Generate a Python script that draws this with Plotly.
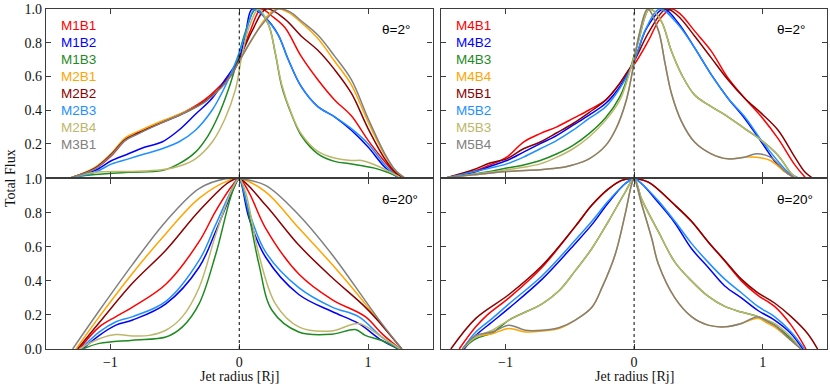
import plotly.graph_objects as go

# ---------------- colours / labels ----------------
COLORS = ["#ff0000", "#0000ff", "#1f8a1f", "#ffa500", "#8b0000", "#1e90ff", "#bdb76b", "#808080"]
LEFT_LABELS = ["M1B1", "M1B2", "M1B3", "M2B1", "M2B2", "M2B3", "M2B4", "M3B1"]
RIGHT_LABELS = ["M4B1", "M4B2", "M4B3", "M4B4", "M5B1", "M5B2", "M5B3", "M5B4"]
X_TICKS = [-1, 0, 1]
X_TICKTEXT = ["\u22121", "0", "1"]
Y_TICKS = [0.0, 0.2, 0.4, 0.6, 0.8, 1.0]
Y_TICKTEXT = ["0.0", "0.2", "0.4", "0.6", "0.8", "1.0"]
PANEL_TOP_LABEL = "\u03b8=2\u00b0"
PANEL_BOT_LABEL = "\u03b8=20\u00b0"

# ---------------- top-left (theta = 2 deg) ----------------
tl_M1B1_x = [-1.30, -1.12, -0.99, -0.885, -0.78, -0.60, -0.42, -0.27, -0.14, -0.06, 0.0, 0.08, 0.17, 0.25, 0.354, 0.48, 0.61, 0.74, 0.87, 1.0, 1.13, 1.20, 1.25]
tl_M1B1_y = [0.0, 0.05, 0.13, 0.22, 0.265, 0.33, 0.39, 0.46, 0.55, 0.62, 0.70, 0.86, 1.0, 0.96, 0.89, 0.72, 0.58, 0.46, 0.366, 0.22, 0.093, 0.03, 0.0]
tl_M1B2_x = [-1.30, -1.12, -0.99, -0.86, -0.73, -0.60, -0.47, -0.34, -0.21, -0.11, 0.0, 0.05, 0.10, 0.20, 0.30, 0.38, 0.48, 0.61, 0.74, 0.87, 1.0, 1.13, 1.23]
tl_M1B2_y = [0.0, 0.04, 0.10, 0.14, 0.18, 0.21, 0.28, 0.375, 0.47, 0.58, 0.71, 0.86, 1.0, 0.95, 0.85, 0.70, 0.54, 0.42, 0.36, 0.28, 0.18, 0.06, 0.0]
tl_M1B3_x = [-1.30, -1.12, -0.86, -0.60, -0.47, -0.34, -0.24, -0.16, -0.085, -0.02, 0.05, 0.13, 0.225, 0.28, 0.33, 0.41, 0.48, 0.61, 0.74, 0.87, 1.05, 1.15, 1.24]
tl_M1B3_y = [0.0, 0.017, 0.03, 0.04, 0.08, 0.15, 0.25, 0.37, 0.52, 0.68, 0.87, 1.0, 0.91, 0.735, 0.54, 0.366, 0.25, 0.14, 0.095, 0.08, 0.055, 0.03, 0.0]
tl_M2B1_x = [-1.30, -1.12, -0.99, -0.885, -0.78, -0.60, -0.42, -0.27, -0.136, -0.06, 0.0, 0.10, 0.20, 0.285, 0.38, 0.48, 0.61, 0.74, 0.87, 1.0, 1.13, 1.21, 1.27]
tl_M2B1_y = [0.0, 0.06, 0.145, 0.235, 0.275, 0.335, 0.39, 0.45, 0.54, 0.61, 0.69, 0.82, 0.94, 1.0, 0.98, 0.92, 0.825, 0.69, 0.55, 0.33, 0.13, 0.04, 0.0]
tl_M2B2_x = [-1.30, -1.12, -0.99, -0.885, -0.78, -0.60, -0.42, -0.27, -0.136, -0.06, 0.0, 0.10, 0.21, 0.354, 0.48, 0.61, 0.74, 0.87, 1.0, 1.13, 1.21, 1.26]
tl_M2B2_y = [0.0, 0.055, 0.14, 0.225, 0.265, 0.325, 0.385, 0.45, 0.54, 0.61, 0.70, 0.87, 1.0, 0.94, 0.84, 0.755, 0.64, 0.50, 0.29, 0.11, 0.03, 0.0]
tl_M2B3_x = [-1.30, -1.12, -0.99, -0.86, -0.73, -0.60, -0.47, -0.34, -0.21, -0.11, -0.03, 0.04, 0.12, 0.20, 0.30, 0.38, 0.48, 0.61, 0.74, 0.87, 1.0, 1.13, 1.23]
tl_M2B3_y = [0.0, 0.03, 0.08, 0.11, 0.14, 0.17, 0.21, 0.28, 0.40, 0.54, 0.68, 0.83, 1.0, 0.95, 0.85, 0.70, 0.54, 0.42, 0.36, 0.29, 0.20, 0.075, 0.0]
tl_M2B4_x = [-1.30, -1.12, -0.86, -0.60, -0.45, -0.34, -0.21, -0.11, -0.03, 0.02, 0.08, 0.15, 0.225, 0.28, 0.33, 0.41, 0.48, 0.61, 0.74, 0.87, 0.95, 1.05, 1.15, 1.25]
tl_M2B4_y = [0.0, 0.03, 0.035, 0.045, 0.07, 0.11, 0.21, 0.35, 0.52, 0.72, 0.90, 1.0, 0.91, 0.74, 0.55, 0.37, 0.26, 0.155, 0.115, 0.10, 0.10, 0.075, 0.04, 0.0]
tl_M3B1_x = [-1.30, -1.12, -0.99, -0.885, -0.78, -0.60, -0.42, -0.27, -0.136, -0.06, 0.0, 0.09, 0.17, 0.30, 0.40, 0.48, 0.61, 0.74, 0.87, 1.0, 1.13, 1.21, 1.28]
tl_M3B1_y = [0.0, 0.05, 0.135, 0.22, 0.26, 0.325, 0.385, 0.445, 0.535, 0.61, 0.69, 0.81, 0.90, 1.0, 0.98, 0.93, 0.845, 0.72, 0.58, 0.35, 0.14, 0.045, 0.0]

# ---------------- top-right (theta = 2 deg) ----------------
tr_M4B1_x = [-1.45, -1.25, -1.12, -0.99, -0.86, -0.73, -0.60, -0.475, -0.35, -0.22, -0.11, -0.04, 0.0, 0.11, 0.20, 0.29, 0.36, 0.47, 0.60, 0.73, 0.86, 0.99, 1.12, 1.25, 1.33]
tr_M4B1_y = [0.0, 0.035, 0.074, 0.12, 0.21, 0.26, 0.30, 0.35, 0.40, 0.46, 0.56, 0.64, 0.67, 0.81, 0.94, 1.0, 0.97, 0.87, 0.75, 0.59, 0.47, 0.36, 0.23, 0.074, 0.0]
tr_M4B2_x = [-1.45, -1.25, -1.12, -0.99, -0.86, -0.73, -0.60, -0.475, -0.35, -0.22, -0.11, 0.0, 0.10, 0.23, 0.34, 0.47, 0.60, 0.73, 0.86, 0.99, 1.12, 1.20, 1.26]
tr_M4B2_y = [0.0, 0.03, 0.065, 0.10, 0.15, 0.20, 0.25, 0.31, 0.37, 0.44, 0.54, 0.69, 0.89, 1.0, 0.92, 0.77, 0.61, 0.47, 0.35, 0.21, 0.07, 0.02, 0.0]
tr_M4B3_x = [-1.45, -1.12, -0.99, -0.86, -0.73, -0.60, -0.475, -0.35, -0.22, -0.11, -0.04, 0.03, 0.12, 0.21, 0.29, 0.37, 0.47, 0.60, 0.73, 0.86, 0.99, 1.12, 1.22, 1.26]
tr_M4B3_y = [0.0, 0.035, 0.055, 0.074, 0.10, 0.14, 0.19, 0.26, 0.356, 0.48, 0.62, 0.80, 1.0, 0.93, 0.75, 0.61, 0.49, 0.42, 0.36, 0.29, 0.22, 0.13, 0.025, 0.0]
tr_M4B4_x = [-1.45, -1.25, -0.99, -0.73, -0.60, -0.475, -0.35, -0.22, -0.14, -0.06, -0.01, 0.04, 0.105, 0.19, 0.24, 0.29, 0.37, 0.47, 0.60, 0.73, 0.86, 0.95, 1.06, 1.17, 1.24]
tr_M4B4_y = [0.0, 0.015, 0.035, 0.045, 0.055, 0.074, 0.11, 0.19, 0.29, 0.46, 0.64, 0.85, 1.0, 0.87, 0.68, 0.50, 0.33, 0.21, 0.14, 0.11, 0.12, 0.12, 0.10, 0.035, 0.0]
tr_M5B1_x = [-1.45, -1.25, -1.12, -0.99, -0.86, -0.73, -0.60, -0.475, -0.35, -0.22, -0.11, 0.0, 0.12, 0.25, 0.34, 0.47, 0.60, 0.73, 0.86, 0.99, 1.12, 1.25, 1.33, 1.38]
tr_M5B1_y = [0.0, 0.045, 0.085, 0.11, 0.17, 0.21, 0.265, 0.32, 0.385, 0.46, 0.56, 0.69, 0.87, 1.0, 0.96, 0.84, 0.71, 0.58, 0.47, 0.38, 0.28, 0.12, 0.03, 0.0]
tr_M5B2_x = [-1.45, -1.12, -0.99, -0.86, -0.73, -0.60, -0.475, -0.35, -0.22, -0.11, 0.0, 0.09, 0.20, 0.34, 0.47, 0.60, 0.73, 0.86, 0.99, 1.12, 1.20, 1.27]
tr_M5B2_y = [0.0, 0.055, 0.08, 0.12, 0.17, 0.22, 0.28, 0.35, 0.42, 0.53, 0.69, 0.88, 1.0, 0.91, 0.77, 0.61, 0.47, 0.36, 0.22, 0.095, 0.03, 0.0]
tr_M5B3_x = [-1.45, -1.12, -0.99, -0.86, -0.73, -0.60, -0.475, -0.35, -0.22, -0.11, -0.04, 0.03, 0.12, 0.21, 0.29, 0.37, 0.47, 0.60, 0.73, 0.86, 0.99, 1.12, 1.22, 1.26]
tr_M5B3_y = [0.0, 0.03, 0.045, 0.06, 0.08, 0.12, 0.17, 0.24, 0.34, 0.46, 0.61, 0.80, 1.0, 0.93, 0.75, 0.61, 0.49, 0.42, 0.36, 0.29, 0.22, 0.13, 0.025, 0.0]
tr_M5B4_x = [-1.45, -1.25, -0.99, -0.73, -0.60, -0.475, -0.35, -0.22, -0.14, -0.06, -0.01, 0.04, 0.105, 0.19, 0.24, 0.29, 0.37, 0.47, 0.60, 0.73, 0.86, 0.95, 1.06, 1.17, 1.24]
tr_M5B4_y = [0.0, 0.015, 0.035, 0.045, 0.055, 0.074, 0.11, 0.19, 0.29, 0.46, 0.64, 0.85, 1.0, 0.87, 0.68, 0.50, 0.33, 0.21, 0.14, 0.11, 0.12, 0.14, 0.12, 0.04, 0.0]

# ---------------- bottom-left (theta = 20 deg) ----------------
bl_M1B1_x = [-1.241, -1.086, -0.957, -0.828, -0.570, -0.312, -0.183, -0.054, 0.0, 0.075, 0.204, 0.462, 0.720, 0.978, 1.107, 1.249]
bl_M1B1_y = [0.0, 0.13, 0.19, 0.246, 0.38, 0.63, 0.81, 0.96, 1.0, 0.92, 0.71, 0.44, 0.29, 0.19, 0.09, 0.0]
bl_M1B2_x = [-1.215, -1.086, -0.957, -0.828, -0.570, -0.312, -0.183, -0.028, 0.0, 0.075, 0.204, 0.462, 0.720, 0.926, 1.107, 1.236]
bl_M1B2_y = [0.0, 0.08, 0.14, 0.17, 0.265, 0.48, 0.69, 0.97, 1.0, 0.77, 0.54, 0.32, 0.22, 0.15, 0.05, 0.0]
bl_M1B3_x = [-1.215, -1.086, -0.828, -0.570, -0.441, -0.312, -0.183, -0.054, 0.0, 0.049, 0.152, 0.255, 0.462, 0.720, 0.901, 0.978, 1.107, 1.236]
bl_M1B3_y = [0.0, 0.033, 0.052, 0.07, 0.13, 0.265, 0.555, 0.92, 1.0, 0.88, 0.50, 0.226, 0.10, 0.087, 0.114, 0.08, 0.05, 0.0]
bl_M2B1_x = [-1.267, -1.086, -0.828, -0.570, -0.312, -0.080, 0.0, 0.204, 0.462, 0.720, 0.978, 1.107, 1.262]
bl_M2B1_y = [0.0, 0.19, 0.445, 0.677, 0.884, 0.99, 1.0, 0.923, 0.71, 0.497, 0.265, 0.14, 0.0]
bl_M2B2_x = [-1.254, -1.086, -0.828, -0.570, -0.312, -0.080, 0.0, 0.204, 0.462, 0.720, 0.978, 1.107, 1.262]
bl_M2B2_y = [0.0, 0.155, 0.387, 0.58, 0.81, 0.98, 1.0, 0.845, 0.61, 0.42, 0.246, 0.14, 0.0]
bl_M2B3_x = [-1.228, -1.086, -0.957, -0.828, -0.570, -0.312, -0.183, -0.028, 0.0, 0.075, 0.204, 0.462, 0.720, 0.926, 1.107, 1.249]
bl_M2B3_y = [0.0, 0.10, 0.16, 0.19, 0.28, 0.52, 0.73, 0.98, 1.0, 0.81, 0.57, 0.36, 0.246, 0.19, 0.07, 0.0]
bl_M2B4_x = [-1.241, -1.086, -0.957, -0.828, -0.699, -0.570, -0.441, -0.312, -0.183, -0.054, 0.0, 0.049, 0.152, 0.281, 0.462, 0.720, 0.926, 1.107, 1.249]
bl_M2B4_y = [0.0, 0.06, 0.085, 0.077, 0.08, 0.11, 0.19, 0.36, 0.67, 0.94, 1.0, 0.92, 0.555, 0.265, 0.13, 0.106, 0.15, 0.07, 0.0]
bl_M3B1_x = [-1.293, -1.086, -0.828, -0.570, -0.312, -0.106, 0.0, 0.204, 0.462, 0.720, 0.978, 1.107, 1.262]
bl_M3B1_y = [0.0, 0.226, 0.497, 0.749, 0.942, 1.0, 1.0, 0.961, 0.787, 0.555, 0.284, 0.149, 0.0]

# ---------------- bottom-right (theta = 20 deg) ----------------
br_M4B1_x = [-1.360, -1.231, -1.141, -0.973, -0.715, -0.457, -0.328, -0.199, -0.096, 0.0, 0.111, 0.317, 0.446, 0.575, 0.705, 0.834, 0.963, 1.092, 1.221, 1.337]
br_M4B1_y = [0.0, 0.13, 0.20, 0.30, 0.48, 0.72, 0.845, 0.94, 0.99, 1.0, 0.98, 0.845, 0.75, 0.63, 0.516, 0.40, 0.315, 0.25, 0.14, 0.0]
br_M4B2_x = [-1.321, -1.231, -1.102, -0.973, -0.715, -0.457, -0.328, -0.199, -0.070, 0.0, 0.059, 0.188, 0.317, 0.446, 0.575, 0.705, 0.834, 0.963, 1.092, 1.221, 1.311]
br_M4B2_y = [0.0, 0.08, 0.16, 0.24, 0.41, 0.62, 0.73, 0.86, 0.97, 1.0, 0.97, 0.86, 0.74, 0.59, 0.48, 0.37, 0.30, 0.226, 0.17, 0.09, 0.0]
br_M4B3_x = [-1.334, -1.231, -1.102, -0.973, -0.715, -0.586, -0.457, -0.328, -0.199, -0.070, 0.0, 0.059, 0.188, 0.317, 0.446, 0.575, 0.705, 0.834, 0.963, 1.092, 1.221, 1.298]
br_M4B3_y = [0.0, 0.06, 0.095, 0.17, 0.265, 0.34, 0.46, 0.59, 0.75, 0.92, 1.0, 0.88, 0.69, 0.51, 0.40, 0.31, 0.25, 0.217, 0.19, 0.14, 0.06, 0.0]
br_M4B4_x = [-1.334, -1.231, -1.102, -0.973, -0.844, -0.715, -0.586, -0.457, -0.328, -0.250, -0.147, -0.070, -0.018, 0.0, 0.059, 0.137, 0.188, 0.317, 0.446, 0.575, 0.705, 0.834, 0.963, 1.040, 1.092, 1.221, 1.298]
br_M4B4_y = [0.0, 0.07, 0.09, 0.12, 0.10, 0.105, 0.12, 0.17, 0.245, 0.36, 0.555, 0.79, 0.97, 1.0, 0.85, 0.65, 0.50, 0.30, 0.19, 0.14, 0.13, 0.15, 0.18, 0.15, 0.13, 0.05, 0.0]
br_M5B1_x = [-1.425, -1.231, -0.973, -0.715, -0.457, -0.328, -0.199, -0.096, 0.0, 0.111, 0.317, 0.446, 0.575, 0.705, 0.834, 0.963, 1.092, 1.221, 1.350, 1.427]
br_M5B1_y = [0.0, 0.18, 0.32, 0.49, 0.72, 0.845, 0.94, 0.99, 1.0, 0.98, 0.845, 0.75, 0.63, 0.52, 0.41, 0.33, 0.27, 0.19, 0.09, 0.0]
br_M5B2_x = [-1.334, -1.231, -1.102, -0.973, -0.715, -0.457, -0.328, -0.199, -0.070, 0.0, 0.059, 0.188, 0.317, 0.446, 0.575, 0.705, 0.834, 0.963, 1.092, 1.221, 1.324]
br_M5B2_y = [0.0, 0.10, 0.18, 0.265, 0.43, 0.64, 0.75, 0.87, 0.97, 1.0, 0.97, 0.87, 0.75, 0.62, 0.51, 0.41, 0.33, 0.25, 0.19, 0.10, 0.0]
br_M5B3_x = [-1.334, -1.231, -1.102, -0.973, -0.715, -0.586, -0.457, -0.328, -0.199, -0.070, 0.0, 0.059, 0.188, 0.317, 0.446, 0.575, 0.705, 0.834, 0.963, 1.092, 1.221, 1.298]
br_M5B3_y = [0.0, 0.07, 0.11, 0.17, 0.265, 0.34, 0.46, 0.59, 0.75, 0.92, 1.0, 0.88, 0.69, 0.51, 0.40, 0.31, 0.25, 0.217, 0.19, 0.15, 0.07, 0.0]
br_M5B4_x = [-1.334, -1.231, -1.102, -0.973, -0.844, -0.715, -0.586, -0.457, -0.328, -0.250, -0.147, -0.070, -0.018, 0.0, 0.059, 0.137, 0.188, 0.317, 0.446, 0.575, 0.705, 0.834, 0.963, 1.040, 1.092, 1.221, 1.298]
br_M5B4_y = [0.0, 0.08, 0.10, 0.14, 0.11, 0.11, 0.125, 0.17, 0.245, 0.36, 0.555, 0.79, 0.97, 1.0, 0.85, 0.65, 0.50, 0.30, 0.19, 0.14, 0.13, 0.15, 0.19, 0.16, 0.14, 0.05, 0.0]

PANELS = [
    ("x", "y", [(tl_M1B1_x, tl_M1B1_y), (tl_M1B2_x, tl_M1B2_y), (tl_M1B3_x, tl_M1B3_y), (tl_M2B1_x, tl_M2B1_y),
                (tl_M2B2_x, tl_M2B2_y), (tl_M2B3_x, tl_M2B3_y), (tl_M2B4_x, tl_M2B4_y), (tl_M3B1_x, tl_M3B1_y)], LEFT_LABELS),
    ("x2", "y2", [(tr_M4B1_x, tr_M4B1_y), (tr_M4B2_x, tr_M4B2_y), (tr_M4B3_x, tr_M4B3_y), (tr_M4B4_x, tr_M4B4_y),
                  (tr_M5B1_x, tr_M5B1_y), (tr_M5B2_x, tr_M5B2_y), (tr_M5B3_x, tr_M5B3_y), (tr_M5B4_x, tr_M5B4_y)], RIGHT_LABELS),
    ("x3", "y3", [(bl_M1B1_x, bl_M1B1_y), (bl_M1B2_x, bl_M1B2_y), (bl_M1B3_x, bl_M1B3_y), (bl_M2B1_x, bl_M2B1_y),
                  (bl_M2B2_x, bl_M2B2_y), (bl_M2B3_x, bl_M2B3_y), (bl_M2B4_x, bl_M2B4_y), (bl_M3B1_x, bl_M3B1_y)], LEFT_LABELS),
    ("x4", "y4", [(br_M4B1_x, br_M4B1_y), (br_M4B2_x, br_M4B2_y), (br_M4B3_x, br_M4B3_y), (br_M4B4_x, br_M4B4_y),
                  (br_M5B1_x, br_M5B1_y), (br_M5B2_x, br_M5B2_y), (br_M5B3_x, br_M5B3_y), (br_M5B4_x, br_M5B4_y)], RIGHT_LABELS),
]

fig = go.Figure()
for xa, ya, series, labels in PANELS:
    for (xs, ys), color, name in zip(series, COLORS, labels):
        fig.add_trace(go.Scatter(x=xs, y=ys, mode="lines", name=name, xaxis=xa, yaxis=ya,
                                 line=dict(color=color, width=1.5, shape="spline", smoothing=1.0),
                                 showlegend=False, hoverinfo="skip"))

AX_COLOR = "#3c3c3c"
SERIF = "Liberation Serif"
SANS = "Liberation Sans"

def xax(domain, anchor, labels):
    return dict(domain=domain, anchor=anchor, range=[-1.5, 1.5], showgrid=False, zeroline=False,
                showline=True, linecolor=AX_COLOR, linewidth=1.3, mirror="ticks",
                ticks="inside", ticklen=5, tickwidth=1, tickcolor=AX_COLOR,
                tickvals=X_TICKS, ticktext=X_TICKTEXT, showticklabels=labels,
                tickfont=dict(family=SERIF, size=14, color="#111"))

def yax(domain, anchor, labels, top):
    tt = list(Y_TICKTEXT)
    if top:
        tt[0] = ""
    return dict(domain=domain, anchor=anchor, range=[0, 1.0], showgrid=False, zeroline=False,
                showline=True, linecolor=AX_COLOR, linewidth=1.3, mirror="ticks",
                ticks="inside", ticklen=5, tickwidth=1, tickcolor=AX_COLOR,
                tickvals=Y_TICKS, ticktext=tt, showticklabels=labels,
                tickfont=dict(family=SERIF, size=14, color="#111"))

LX = [0.0, 0.4949]
RX = [0.506, 1.0]
TY = [0.5048, 1.0]
BY = [0.0, 0.5010]

fig.update_layout(
    width=830, height=386, autosize=False,
    margin=dict(l=46, r=2, t=5, b=37),
    paper_bgcolor="white", plot_bgcolor="white",
    xaxis=xax(LX, "y", False), yaxis=yax(TY, "x", True, True),
    xaxis2=xax(RX, "y2", False), yaxis2=yax(TY, "x2", False, True),
    xaxis3=xax(LX, "y3", True), yaxis3=yax(BY, "x3", True, False),
    xaxis4=xax(RX, "y4", True), yaxis4=yax(BY, "x4", False, False),
)

shapes = []
annotations = []
for i, (xa, ya, series, labels) in enumerate(PANELS):
    shapes.append(dict(type="line", xref=xa, yref=ya + " domain", x0=0, x1=0, y0=0, y1=1,
                       line=dict(color="black", width=1, dash="dot"), layer="above"))
    annotations.append(dict(xref=xa, yref=ya, x=1.095, y=0.876, xanchor="left", yanchor="middle",
                            text=PANEL_TOP_LABEL if i < 2 else PANEL_BOT_LABEL, showarrow=False,
                            font=dict(family=SANS, size=13.5, color="black")))
    if i < 2:
        for k, (name, color) in enumerate(zip(labels, COLORS)):
            annotations.append(dict(xref=xa, yref=ya, x=-1.402, y=0.901 - 0.101 * k,
                                    xanchor="left", yanchor="middle", text=name, showarrow=False,
                                    font=dict(family=SANS, size=13.5, color=color)))
    else:
        annotations.append(dict(xref=xa, yref="paper", x=0, y=-0.0805, xanchor="center", yanchor="middle",
                                text="Jet radius [Rj]", showarrow=False,
                                font=dict(family=SERIF, size=14, color="#111")))

annotations.append(dict(xref="paper", yref="paper", x=-0.046, y=0.5029, xanchor="center", yanchor="middle",
                        text="Total Flux", textangle=-90, showarrow=False,
                        font=dict(family=SERIF, size=14, color="#111")))

fig.update_layout(shapes=shapes, annotations=annotations)
fig.write_html("out.html", config={"displayModeBar": False},
               post_script="document.body.style.margin='0px';")
